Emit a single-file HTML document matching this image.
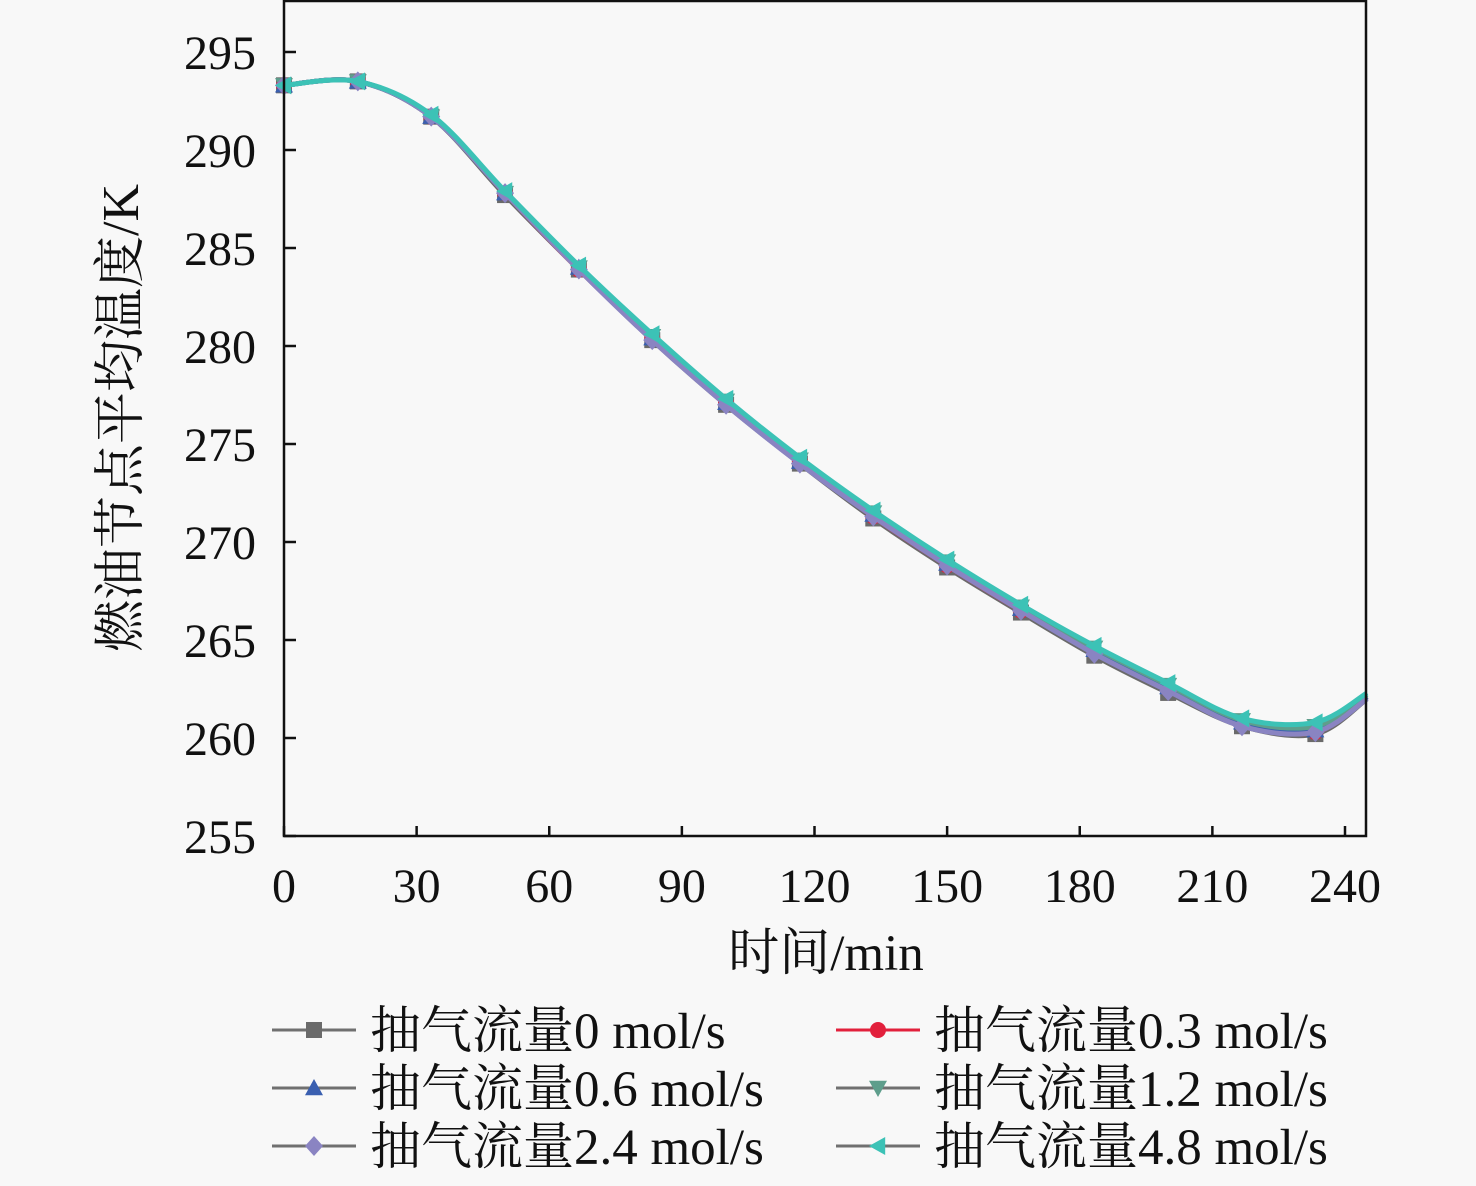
<!DOCTYPE html>
<html><head><meta charset="utf-8"><style>
html,body{margin:0;padding:0;background:#f8f8f8;}
svg text{font-family:"Liberation Serif","Noto Serif CJK SC",serif;fill:#111;}
</style></head><body>
<svg id="chart" width="1476" height="1181" viewBox="0 0 1476 1181" xmlns="http://www.w3.org/2000/svg">
<rect width="1476" height="1181" fill="#f8f8f8"/>
<g id="plot"></g>
<g id="axes"></g>
<text x="826" y="970" font-size="51" text-anchor="middle">时间/min</text>
<text transform="translate(138,418) rotate(-90)" font-size="52" text-anchor="middle">燃油节点平均温度/K</text>
<g id="legend"></g>
</svg>
<script>
const times=[0,16.7,33.3,50,66.7,83.3,100,116.7,133.3,150,166.7,183.3,200,216.7,233.3,245];
const s0=[293.3,293.5,291.7,287.7,283.9,280.3,277.0,274.0,271.2,268.7,266.4,264.2,262.3,260.6,260.2,262.0];
const s03=[293.3,293.5,291.7,287.8,283.9,280.4,277.1,274.1,271.3,268.8,266.5,264.4,262.5,260.7,260.3,262.1];
const s06=[293.3,293.5,291.7,287.8,284.0,280.4,277.1,274.1,271.4,268.9,266.6,264.5,262.6,260.8,260.4,262.1];
const s12=[293.3,293.5,291.7,287.8,284.0,280.5,277.2,274.2,271.5,269.0,266.7,264.6,262.7,260.9,260.6,262.2];
const s24=[293.3,293.5,291.7,287.8,283.9,280.3,277.0,274.0,271.3,268.8,266.5,264.3,262.4,260.6,260.3,262.0];
const s48=[293.3,293.5,291.8,287.9,284.1,280.6,277.3,274.3,271.6,269.1,266.8,264.7,262.8,261.0,260.8,262.3];
const labels=["抽气流量0 mol/s","抽气流量0.3 mol/s","抽气流量0.6 mol/s","抽气流量1.2 mol/s","抽气流量2.4 mol/s","抽气流量4.8 mol/s"];
const xTicks=[0,30,60,90,120,150,180,210,240];
const yTicks=[255,260,265,270,275,280,285,290,295];

const NS="http://www.w3.org/2000/svg";
const X0=284,X1=1366,Y0=836,Y1=1;
const xs=t=>284+t*(1345-284)/240;
const ys=v=>836-(v-255)*(836-52)/40;
function mk(tag,attrs,parent){const e=document.createElementNS(NS,tag);for(const k in attrs)e.setAttribute(k,attrs[k]);parent.appendChild(e);return e;}
const axes=document.getElementById('axes'),plot=document.getElementById('plot'),legend=document.getElementById('legend');

const series=[
 {d:s0,c:"#6a6a6a",m:"square"},{d:s03,c:"#e2203c",m:"circle"},{d:s06,c:"#3a5fb0",m:"up"},
 {d:s12,c:"#5e9e8c",m:"down"},{d:s24,c:"#8a84c2",m:"diamond"},{d:s48,c:"#3cc2b6",m:"left"}];

function marker(type,x,y,c,parent){
 const r=9;let e;
 if(type==="square")e=mk('rect',{x:x-r+1,y:y-r+1,width:2*r-2,height:2*r-2,fill:c},parent);
 else if(type==="circle")e=mk('circle',{cx:x,cy:y,r:r-1,fill:c},parent);
 else{let p;
  if(type==="up")p=[[x,y-r],[x+r,y+r*0.8],[x-r,y+r*0.8]];
  else if(type==="down")p=[[x,y+r],[x+r,y-r*0.8],[x-r,y-r*0.8]];
  else if(type==="diamond")p=[[x,y-r-1],[x+r,y],[x,y+r+1],[x-r,y]];
  else p=[[x-r,y],[x+r*0.8,y-r],[x+r*0.8,y+r]];
  e=mk('polygon',{points:p.map(q=>q.join(',')).join(' '),fill:c},parent);}
 return e;
}
function pathD(pts){
 let d=`M${pts[0][0]},${pts[0][1]}`;
 for(let i=0;i<pts.length-1;i++){
  const p0=pts[Math.max(0,i-1)],p1=pts[i],p2=pts[i+1],p3=pts[Math.min(pts.length-1,i+2)];
  const c1=[p1[0]+(p2[0]-p0[0])/6,p1[1]+(p2[1]-p0[1])/6],c2=[p2[0]-(p3[0]-p1[0])/6,p2[1]-(p3[1]-p1[1])/6];
  d+=`C${c1[0]},${c1[1]} ${c2[0]},${c2[1]} ${p2[0]},${p2[1]}`;}
 return d;
}
series.forEach((s,i)=>{
 const g=mk('g',{},plot);
 
 
 const pts=times.map((t,j)=>[xs(t),ys(s.d[j])]);
 const p=mk('path',{d:pathD(pts),fill:"none",stroke:s.c,"stroke-width":5},g);
 
 
 times.forEach((t,j)=>{ if(t>240)return;
  const m=marker(s.m,xs(t),ys(s.d[j]),s.c,g);
  
  
 });
});
const frame=mk('rect',{x:X0,y:Y1,width:X1-X0,height:Y0-Y1,fill:"none",stroke:"#111","stroke-width":2.5},axes);


xTicks.forEach(t=>{
 const l=mk('line',{x1:xs(t),x2:xs(t),y1:Y0,y2:Y0-10,stroke:"#111","stroke-width":2.5},axes);
 
 
 const tx=mk('text',{x:xs(t),y:Y0+66,"font-size":48,"text-anchor":"middle"},axes);
 tx.textContent=t;
 
 
});
yTicks.forEach(v=>{
 const l=mk('line',{x1:X0,x2:X0+12,y1:ys(v),y2:ys(v),stroke:"#111","stroke-width":2.5},axes);
 
 
 const tx=mk('text',{x:X0-28,y:ys(v)+17,"font-size":48,"text-anchor":"end"},axes);
 tx.textContent=v;
 
 
});
series.forEach((s,i)=>{
 const col=i%2,row=Math.floor(i/2);
 const lx=col?836:272,ly=1030+row*58;
 const g=mk('g',{},legend);
 
 
 mk('line',{x1:lx,x2:lx+84,y1:ly,y2:ly,stroke:i===1?"#e2203c":"#707070","stroke-width":3},g);
 marker(s.m,lx+42,ly,s.c,g);
 const tx=mk('text',{x:lx+98,y:ly+18,"font-size":51},g);
 tx.textContent=labels[i];
});
</script>
</body></html>
